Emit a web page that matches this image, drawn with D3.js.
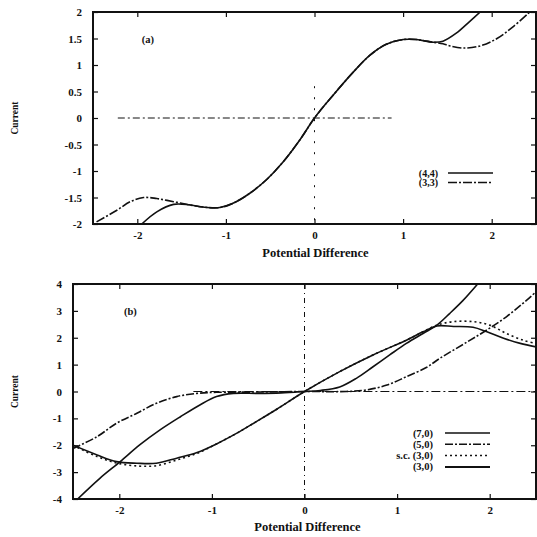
<!DOCTYPE html>
<html lang="en">
<head>
<meta charset="UTF-8">
<title>Current vs Potential Difference</title>
<script src="https://d3js.org/d3.v7.min.js"></script>
<style>
  body { margin: 0; background: #fff; }
  svg { display: block; font-family: "Liberation Serif", "DejaVu Serif", serif; font-weight: bold; }
  .frame { fill: none; stroke: #111; stroke-width: 2; }
  .tick line { stroke: #111; stroke-width: 1.2; }
  .curve { fill: none; stroke: #111; stroke-width: 1.6; }
  .zero { fill: none; stroke: #111; stroke-width: 1; }
</style>
</head>
<body>
<div id="chart"></div>
<script>
// ---- panel (a) ----
const xTicksA = [-2, -1, 0, 1, 2];
const yTicksA = [-2, -1.5, -1, -0.5, 0, 0.5, 1, 1.5, 2];

const curve44 = [[-1.95,-2.0],[-1.78,-1.77],[-1.59,-1.63],[-1.41,-1.64],[-1.26,-1.68],[-1.07,-1.69],
  [-0.92,-1.61],[-0.73,-1.42],[-0.54,-1.16],[-0.35,-0.82],[-0.16,-0.4],[0,0],[0.21,0.43],[0.44,0.87],
  [0.63,1.19],[0.81,1.39],[1.0,1.48],[1.15,1.48],[1.34,1.43],[1.45,1.45],[1.6,1.6],[1.75,1.82],[1.87,2.0]];

const curve33 = [[-2.46,-1.96],[-2.23,-1.74],[-2.08,-1.58],[-1.93,-1.5],[-1.78,-1.52],[-1.59,-1.58],
  [-1.41,-1.64],[-1.26,-1.68],[-1.07,-1.69],[-0.92,-1.61],[-0.73,-1.42],[-0.54,-1.16],[-0.35,-0.82],
  [-0.16,-0.4],[0,0],[0.21,0.43],[0.44,0.87],[0.63,1.19],[0.81,1.39],[1.0,1.48],[1.15,1.48],[1.34,1.43],
  [1.45,1.4],[1.53,1.36],[1.68,1.32],[1.87,1.36],[2.06,1.5],[2.24,1.72],[2.43,2.0]];

const legendA = ["(4,4)", "(3,3)"];

// ---- panel (b) ----
const xTicksB = [-2, -1, 0, 1, 2];
const yTicksB = [-4, -3, -2, -1, 0, 1, 2, 3, 4];

const curve70 = [[-2.45,-4.0],[-2.21,-3.23],[-1.99,-2.61],[-1.78,-1.99],[-1.56,-1.43],[-1.34,-0.94],
  [-1.13,-0.5],[-0.95,-0.19],[-0.77,-0.07],[-0.5,-0.07],[-0.25,-0.05],[0,0],[0.17,0.04],[0.38,0.17],
  [0.56,0.49],[0.74,0.92],[0.92,1.36],[1.1,1.79],[1.28,2.16],[1.43,2.47],[1.57,2.91],[1.71,3.38],[1.87,4.0]];

const curve50 = [[-2.5,-2.12],[-2.24,-1.68],[-2.03,-1.18],[-1.81,-0.81],[-1.6,-0.44],[-1.38,-0.19],
  [-1.16,-0.07],[-0.95,-0.03],[-0.5,-0.02],[0,0],[0.45,0],[0.67,0.06],[0.89,0.24],[1.1,0.55],
  [1.32,0.9],[1.46,1.23],[1.76,1.85],[1.97,2.29],[2.18,2.78],[2.4,3.4],[2.5,3.71]];

const curveSc30 = [[-2.5,-2.0],[-2.24,-2.42],[-2.03,-2.66],[-1.81,-2.77],[-1.6,-2.76],[-1.38,-2.55],
  [-1.16,-2.3],[-0.95,-1.95],[-0.73,-1.55],[-0.52,-1.12],[-0.3,-0.66],[0,0],[0.38,0.74],[0.74,1.36],
  [1.1,1.91],[1.28,2.22],[1.43,2.47],[1.61,2.6],[1.82,2.6],[2.0,2.47],[2.18,2.16],[2.36,1.91],[2.5,1.79]];

const curve30 = [[-2.5,-2.0],[-2.24,-2.36],[-2.03,-2.61],[-1.81,-2.67],[-1.6,-2.67],[-1.38,-2.48],
  [-1.16,-2.27],[-0.95,-1.95],[-0.73,-1.55],[-0.52,-1.12],[-0.3,-0.66],[0,0],[0.38,0.74],[0.74,1.36],
  [1.1,1.91],[1.28,2.22],[1.43,2.44],[1.61,2.42],[1.82,2.39],[1.97,2.22],[2.15,1.98],[2.33,1.79],[2.5,1.66]];

const legendB = ["(7,0)", "(5,0)", "s.c. (3,0)", "(3,0)"];

const W = 537, H = 537;
const svg = d3.select("#chart").append("svg").attr("width", W).attr("height", H);

const fmt = d => String(d);

function panel(opts) {
  const x = d3.scaleLinear().domain([-2.5, 2.5]).range([opts.left, opts.right]);
  const y = d3.scaleLinear().domain(opts.yDomain).range([opts.bottom, opts.top]);
  const g = svg.append("g");

  g.append("clipPath").attr("id", opts.id)
    .append("rect")
    .attr("x", opts.left).attr("y", opts.top)
    .attr("width", opts.right - opts.left).attr("height", opts.bottom - opts.top);

  // axes, ticks pointing inward
  g.append("g").attr("transform", `translate(0,${opts.bottom})`)
    .call(d3.axisBottom(x).tickValues(opts.xTicks).tickSizeInner(-5).tickSizeOuter(0).tickPadding(7).tickFormat(fmt))
    .call(a => a.select(".domain").remove());
  g.append("g").attr("transform", `translate(0,${opts.top})`)
    .call(d3.axisTop(x).tickValues(opts.xTicks).tickSizeInner(-5).tickSizeOuter(0).tickFormat(""))
    .call(a => a.select(".domain").remove());
  g.append("g").attr("transform", `translate(${opts.left},0)`)
    .call(d3.axisLeft(y).tickValues(opts.yTicks).tickSizeInner(-5).tickSizeOuter(0).tickPadding(11).tickFormat(fmt))
    .call(a => a.select(".domain").remove());
  g.append("g").attr("transform", `translate(${opts.right},0)`)
    .call(d3.axisRight(y).tickValues(opts.yTicks).tickSizeInner(-5).tickSizeOuter(0).tickFormat(""))
    .call(a => a.select(".domain").remove());

  g.selectAll(".tick text")
    .attr("font-family", "Liberation Serif, serif")
    .attr("font-weight", "bold")
    .attr("font-size", 11)
    .attr("fill", "#111");

  g.append("rect").attr("class", "frame")
    .attr("x", opts.left).attr("y", opts.top)
    .attr("width", opts.right - opts.left).attr("height", opts.bottom - opts.top);

  // axis titles
  g.append("text")
    .attr("x", (opts.left + opts.right) / 2 + opts.titleShift)
    .attr("y", opts.bottom + opts.titleDrop)
    .attr("text-anchor", "middle")
    .attr("font-size", 12.5)
    .attr("fill", "#111")
    .text("Potential Difference");
  g.append("text")
    .attr("transform", `translate(18,${(opts.top + opts.bottom) / 2}) rotate(-90)`)
    .attr("text-anchor", "middle")
    .attr("font-size", 9.5)
    .attr("fill", "#111")
    .text("Current");

  g.append("text")
    .attr("x", x(opts.tagAt[0])).attr("y", y(opts.tagAt[1]))
    .attr("font-size", 10.5)
    .attr("fill", "#111")
    .text(opts.tag);

  const plot = g.append("g").attr("clip-path", `url(#${opts.id})`);
  return { x, y, g, plot };
}

const line = (x, y) => d3.line().x(d => x(d[0])).y(d => y(d[1])).curve(d3.curveCatmullRom.alpha(0.5));

// ---- draw (a) ----
const A = panel({ id: "clipA", left: 93, right: 536, top: 12, bottom: 224,
  yDomain: [-2, 2], xTicks: xTicksA, yTicks: yTicksA, titleShift: 1, titleDrop: 33,
  tag: "(a)", tagAt: [-1.95, 1.42] });

A.plot.append("line").attr("class", "zero")
  .attr("x1", A.x(-2.22)).attr("x2", A.x(0.87)).attr("y1", A.y(0)).attr("y2", A.y(0))
  .attr("stroke-dasharray", "7,3,2,3");
A.plot.append("line").attr("class", "zero")
  .attr("x1", A.x(0)).attr("x2", A.x(0)).attr("y1", A.y(0.6)).attr("y2", A.y(-2))
  .attr("stroke-dasharray", "2,9");

const stylesA = ["none", "9,2,2,2"];
[curve44, curve33].forEach((c, i) => {
  A.plot.append("path").attr("class", "curve")
    .attr("d", line(A.x, A.y)(c))
    .attr("stroke-dasharray", stylesA[i]);
});

legendA.forEach((name, i) => {
  const yy = 173 + i * 9.5;
  A.g.append("text").attr("x", 438).attr("y", yy + 3.5).attr("text-anchor", "end")
    .attr("font-size", 10).attr("fill", "#111").text(name);
  A.g.append("line").attr("x1", 448).attr("x2", 493).attr("y1", yy).attr("y2", yy)
    .attr("stroke", "#111").attr("stroke-width", 1.4).attr("stroke-dasharray", stylesA[i]);
});

// ---- draw (b) ----
const B = panel({ id: "clipB", left: 73, right: 536, top: 284, bottom: 499,
  yDomain: [-4, 4], xTicks: xTicksB, yTicks: yTicksB, titleShift: 3, titleDrop: 32,
  tag: "(b)", tagAt: [-1.95, 2.85] });

B.plot.append("line").attr("class", "zero")
  .attr("x1", B.x(-1.2)).attr("x2", B.x(2.5)).attr("y1", B.y(0)).attr("y2", B.y(0))
  .attr("stroke-dasharray", "9,3,2,3");
B.plot.append("line").attr("class", "zero")
  .attr("x1", B.x(0)).attr("x2", B.x(0)).attr("y1", B.y(4)).attr("y2", B.y(-4))
  .attr("stroke-dasharray", "5,4,1,4");

const stylesB = ["none", "8,2,2,2", "2,3", "none"];
const widthsB = [1.5, 1.5, 1.5, 2];
[curve70, curve50, curveSc30, curve30].forEach((c, i) => {
  B.plot.append("path").attr("class", "curve")
    .attr("d", line(B.x, B.y)(c))
    .attr("stroke-width", widthsB[i])
    .attr("stroke-dasharray", stylesB[i]);
});

legendB.forEach((name, i) => {
  const yy = 433 + i * 11.3;
  B.g.append("text").attr("x", 433).attr("y", yy + 3.5).attr("text-anchor", "end")
    .attr("font-size", 10.5).attr("fill", "#111").text(name);
  B.g.append("line").attr("x1", 445).attr("x2", 490).attr("y1", yy).attr("y2", yy)
    .attr("stroke", "#111").attr("stroke-width", widthsB[i]).attr("stroke-dasharray", stylesB[i]);
});
</script>
</body>
</html>
